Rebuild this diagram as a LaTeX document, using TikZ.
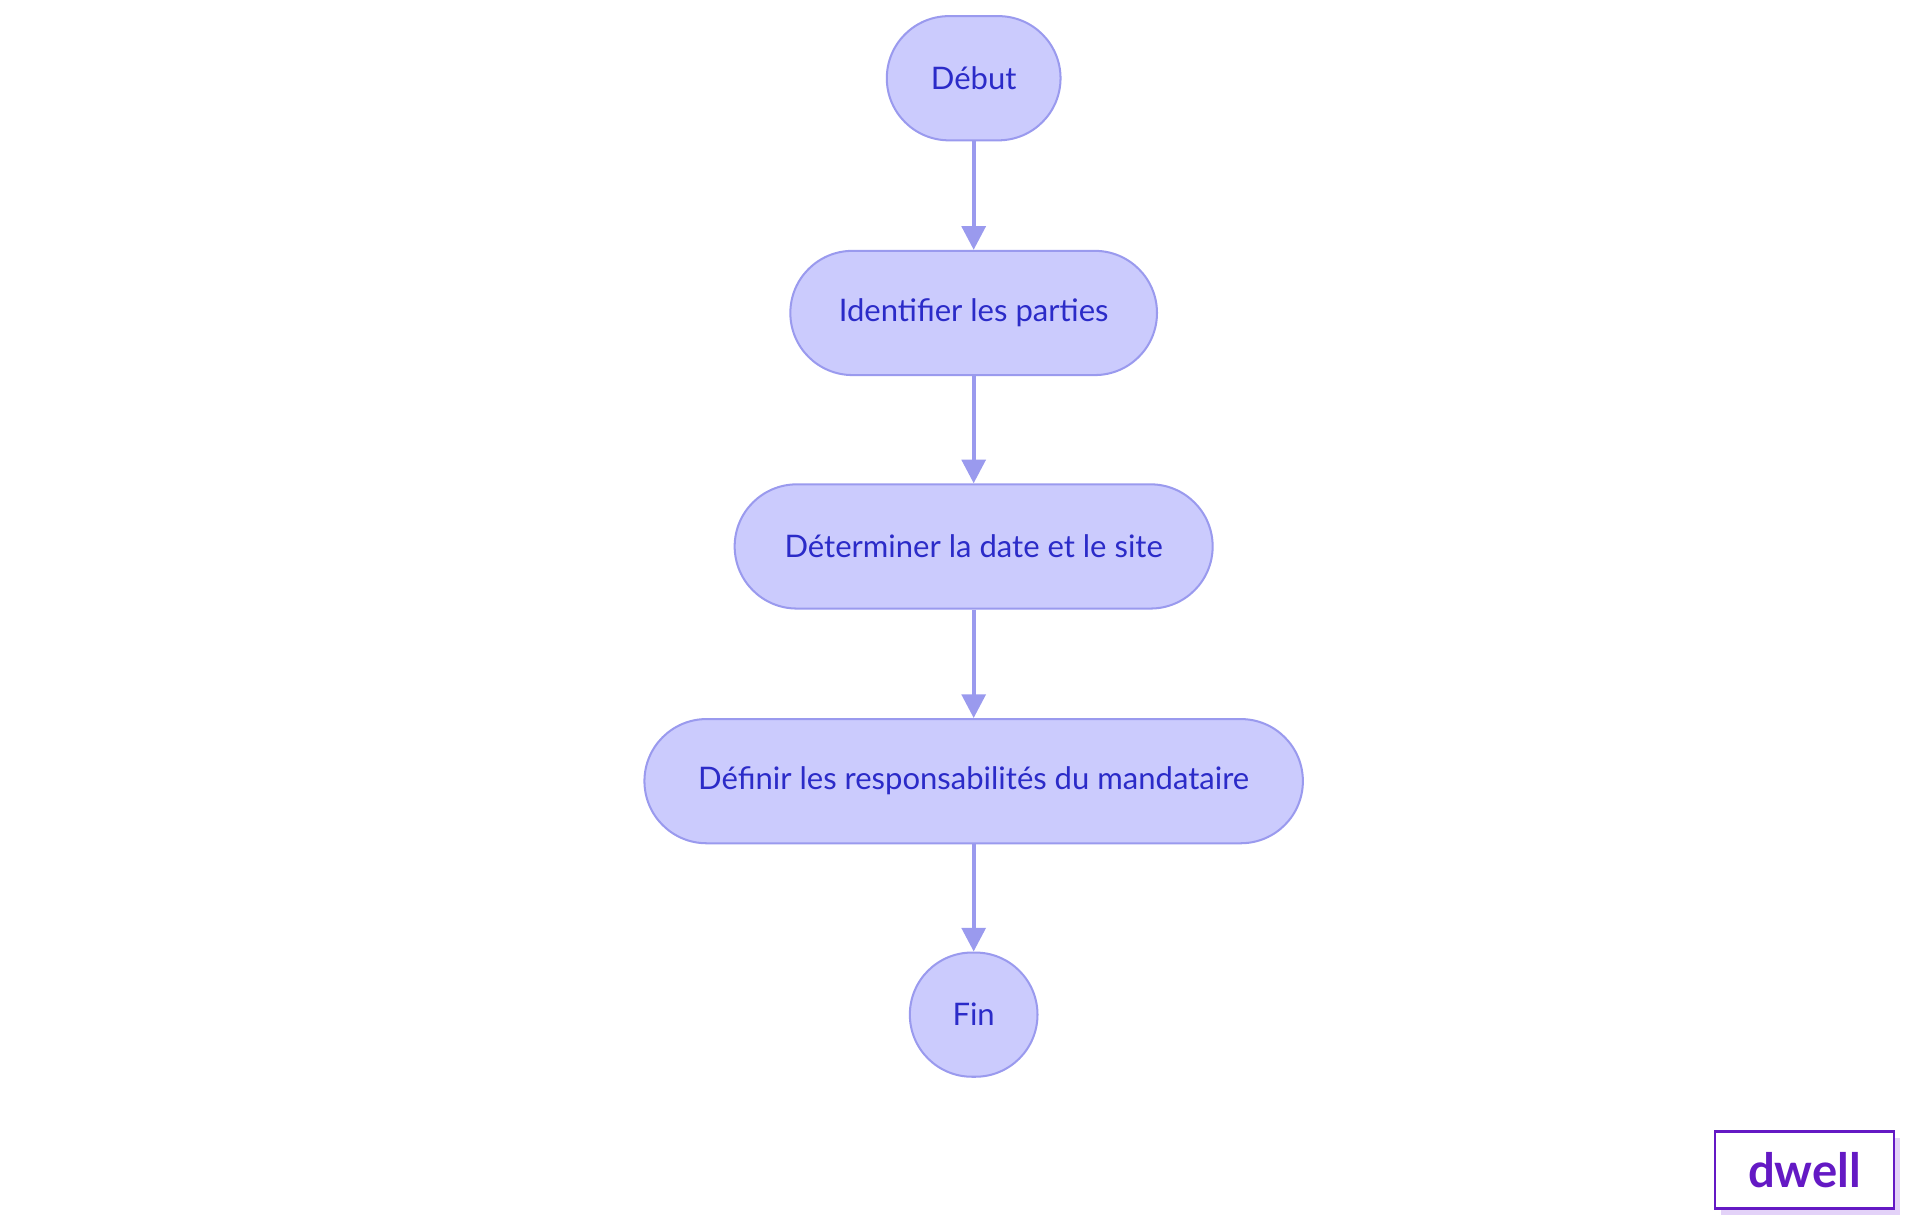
\documentclass[tikz,border=0pt]{standalone}
\usepackage{fontspec}
\setmainfont{Lato}
\usetikzlibrary{arrows.meta,positioning}
\definecolor{boxfill}{HTML}{CBCBFD}
\definecolor{boxline}{HTML}{9A9AEE}
\definecolor{boxtext}{HTML}{2B2BC8}
\definecolor{logo}{HTML}{6419C4}
\definecolor{logoshadow}{HTML}{E3D2F8}
\begin{document}
\begin{tikzpicture}[
  x=0.01294cm, y=-0.01294cm,
  stage/.style={draw=boxline, fill=boxfill, text=boxtext, rounded corners=0.647cm,
    minimum height=1.294cm, font=\fontsize{9.2}{11}\selectfont, line width=0.6pt},
  arr/.style={-{Triangle[length=7pt,width=7pt]}, draw=boxline, line width=1.2pt}
]
  \useasboundingbox (0,0) rectangle (1546,978);
  \node[stage, minimum width=1.81cm] (debut) at (784,63) {Début};
  \node[stage, minimum width=3.82cm] (ident) at (784,252) {Identifier les parties};
  \node[stage, minimum width=4.98cm] (date) at (784,440) {Déterminer la date et le site};
  \node[stage, minimum width=6.86cm] (resp) at (784,629) {Définir les responsabilités du mandataire};
  \node[stage, minimum width=1.33cm] (fin) at (784,817) {Fin};

  \draw[arr] (debut) -- (ident);
  \draw[arr] (ident) -- (date);
  \draw[arr] (date) -- (resp);
  \draw[arr] (resp) -- (fin);

  % logo
  \fill[logoshadow] (1386,916) rectangle (1530,978);
  \node[draw=logo, fill=white, line width=0.8pt, minimum width=1.863cm, minimum height=0.802cm,
    text=logo, font=\fontsize{14}{16}\selectfont\bfseries, inner sep=0pt] (logo) at (1453,942) {dwell};
\end{tikzpicture}
\end{document}
